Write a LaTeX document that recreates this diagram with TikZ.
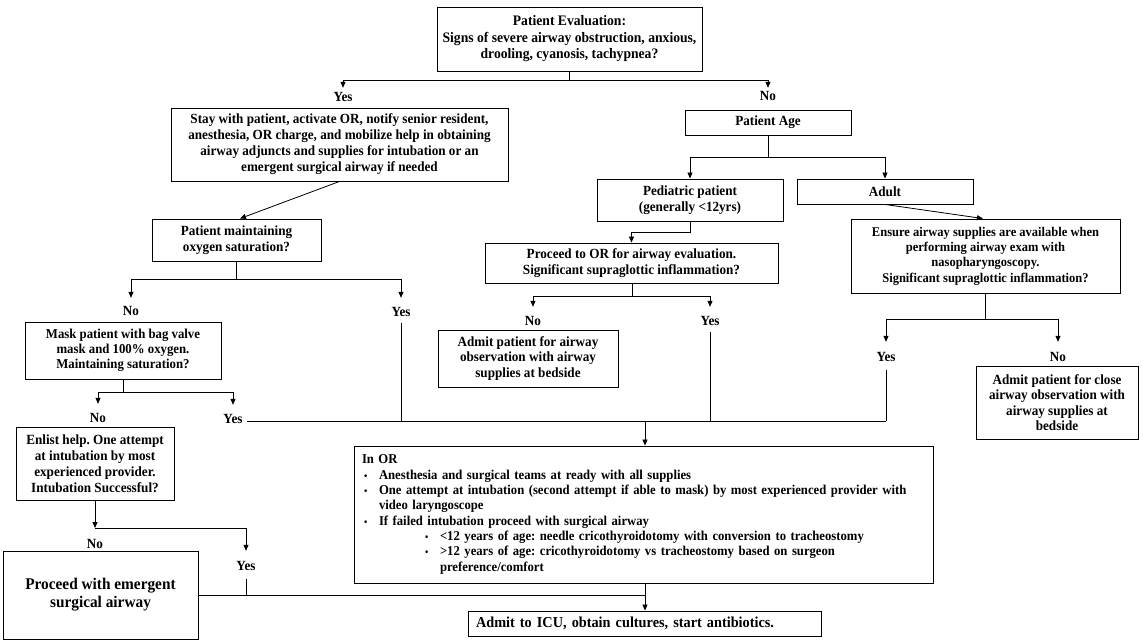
\documentclass[tikz,border=0pt]{standalone}
\usepackage{fontspec}
\setmainfont{Liberation Serif}[FakeStretch=0.94]
\usetikzlibrary{arrows.meta}
\frenchspacing
\newcommand\fsz[2]{\fontsize{#1}{#2}\selectfont\bfseries}
\newcommand\bul{{\fontsize{10}{10}\selectfont\textbullet}}
\begin{document}
\begin{tikzpicture}[x=1pt,y=-1pt,
  box/.style={draw=black, line width=0.9pt, inner sep=0pt, align=center, font=\fsz{14}{16}},
  lab/.style={inner sep=0pt, text height=10pt, text depth=3pt, font=\fsz{14}{16}, anchor=base},
  ln/.style={line width=0.8pt},
  arr/.style={ln, -{Triangle[width=5pt,length=6pt]}}]
\useasboundingbox (0,0) rectangle (1143,642);
\fill[white] (0,0) rectangle (1143,642);

% boxes
\node[box, minimum width=265pt, minimum height=64pt, font=\fsz{14.5}{16.5}] (top) at (569.5,39)
  {Patient Evaluation:\\Signs of severe airway obstruction, anxious,\\drooling, cyanosis, tachypnea?};
\node[box, minimum width=337pt, minimum height=73pt] (stay) at (339.5,144.5)
  {Stay with patient, activate OR, notify senior resident,\\anesthesia, OR charge, and mobilize help in obtaining\\airway adjuncts and supplies for intubation or an\\emergent surgical airway if needed};
\node[box, minimum width=169pt, minimum height=42pt] (pmaint) at (236.5,240)
  {Patient maintaining\\oxygen saturation?};
\node[box, minimum width=196pt, minimum height=57pt, font=\fsz{13.6}{15}] (mask) at (123,350.5)
  {Mask patient with bag valve\\mask and 100\% oxygen.\\Maintaining saturation?};
\node[box, minimum width=158pt, minimum height=73pt] (enlist) at (95,463.5)
  {Enlist help. One attempt\\at intubation by most\\experienced provider.\\Intubation Successful?};
\node[box, minimum width=195pt, minimum height=88pt, font=\fsz{16.3}{18}] (emerg) at (100.5,595)
  {Proceed with emergent\\surgical airway};
\node[box, minimum width=166pt, minimum height=25pt] (age) at (768,122.5) {Patient Age};
\node[box, minimum width=186pt, minimum height=42pt] (ped) at (690,200)
  {Pediatric patient\\(generally <12yrs)};
\node[box, minimum width=176pt, minimum height=25pt] (adult) at (885,191.5) {Adult};
\node[box, minimum width=293pt, minimum height=40pt] (proc) at (631.5,263)
  {Proceed to OR for airway evaluation.\\Significant supraglottic inflammation?};
\node[box, minimum width=180pt, minimum height=57pt, font=\fsz{14}{15.5}] (admitair) at (528,358.5)
  {Admit patient for airway\\observation with airway\\supplies at bedside};
\node[box, minimum width=269pt, minimum height=74pt, font=\fsz{13.3}{15.3}] (ensure) at (985.5,256)
  {Ensure airway supplies are available when\\performing airway exam with\\nasopharyngoscopy.\\Significant supraglottic inflammation?};
\node[box, minimum width=162pt, minimum height=73pt, font=\fsz{14}{15.3}] (admitclose) at (1057,402.5)
  {Admit patient for close\\airway observation with\\airway supplies at\\bedside};
\node[box, minimum width=579pt, minimum height=137pt, text width=563pt, inner xsep=8pt, align=left, font=\fsz{13.5}{15.3}] (inor) at (643.5,514.5)
  {In OR\\
   \hspace*{2pt}\makebox[15pt][l]{\bul}Anesthesia and surgical teams at ready with all supplies\\
   \hspace*{2pt}\makebox[15pt][l]{\bul}One attempt at intubation (second attempt if able to mask) by most experienced provider with\\
   \hspace*{17pt}video laryngoscope\\
   \hspace*{2pt}\makebox[15pt][l]{\bul}If failed intubation proceed with surgical airway\\
   \hspace*{63pt}\makebox[15pt][l]{\bul}<12 years of age: needle cricothyroidotomy with conversion to tracheostomy\\
   \hspace*{63pt}\makebox[15pt][l]{\bul}>12 years of age: cricothyroidotomy vs tracheostomy based on surgeon\\
   \hspace*{78pt}preference/comfort};
\node[box, minimum width=353pt, minimum height=25pt, text width=337pt, inner xsep=8pt, align=left, font=\fsz{15.2}{17}] (icu) at (644.5,623.5)
  {Admit to ICU, obtain cultures, start antibiotics.};

% labels
\node[lab] (yes1) at (343,101) {Yes};
\node[lab] (no1) at (768,100) {No};
\node[lab] (no2) at (131,315) {No};
\node[lab] (yes2) at (401,316) {Yes};
\node[lab] (no3) at (533,325) {No};
\node[lab] (yes3) at (710,325) {Yes};
\node[lab] (yes4) at (886,361) {Yes};
\node[lab] (no4) at (1058,361) {No};
\node[lab] (no5) at (98,422) {No};
\node[lab] (yes5) at (233,423) {Yes};
\node[lab] (no6) at (95,548) {No};
\node[lab] (yes6) at (246,570) {Yes};

% junctions
\coordinate (j1) at (570,80);
\coordinate (j2) at (236,279);
\coordinate (j3) at (123,392);
\coordinate (j4) at (95,528);
\coordinate (j5) at (768,157);
\coordinate (j6) at (632,296);
\coordinate (j7) at (985,319);
\coordinate (h1) at (645,421);
\coordinate (h2) at (645,595);

% connectors
\draw[ln] (top.south) -- (top.south |- j1);
\draw[arr, shorten >=3pt] (j1) -| (yes1.north);
\draw[arr, shorten >=2pt] (j1) -| (no1.north);

\draw[arr] (stay.south) -- ([xshift=3.5pt]pmaint.north);
\draw[ln] (pmaint.south -| j2) -- (j2);
\draw[arr, shorten >=7pt] (j2) -| (no2.north);
\draw[arr, shorten >=8pt] (j2) -| (yes2.north);

\draw[ln] (mask.south) -- (j3);
\draw[arr, shorten >=8pt] (j3) -| (no5.north);
\draw[arr, shorten >=8pt] (j3) -| (yes5.north);

\draw[arr] (enlist.south) -- (j4);
\draw[arr, shorten >=9pt] (j4) -| (yes6.north);

\draw[ln] (age.south) -- (j5);
\draw[arr] (j5) -| (ped.north);
\draw[arr] (j5) -| (adult.north);

\draw[arr] (ped.south) -- ++(0,11) -| (proc.north);
\draw[ln] (proc.south -| j6) -- (j6);
\draw[arr, shorten >=8pt] (j6) -| (no3.north);
\draw[arr, shorten >=8pt] (j6) -| (yes3.north);

\draw[arr] (adult.south) -- ([xshift=-2.5pt]ensure.north);
\draw[ln] (ensure.south -| j7) -- (j7);
\draw[arr, shorten >=9pt] (j7) -| (yes4.north);
\draw[arr, shorten >=9pt] (j7) -| (no4.north);

% merge into In OR
\draw[ln, shorten <=4pt] (yes2.south) -- (yes2 |- h1);
\draw[ln, shorten <=4pt] (yes3.south) -- (yes3 |- h1);
\draw[ln, shorten <=6pt] (yes4.south) -- (yes4 |- h1);
\draw[ln] ([xshift=4.5pt]yes5.east |- h1) -- (yes4 |- h1);
\draw[arr] (h1) -- (h1 |- inor.north);

% merge into ICU
\draw[ln, shorten <=6pt] (yes6.south) -- (yes6 |- h2);
\draw[ln] (emerg.east |- h2) -- (h2);
\draw[arr] (h2 |- inor.south) -- (h2 |- icu.north);
\end{tikzpicture}
\end{document}
